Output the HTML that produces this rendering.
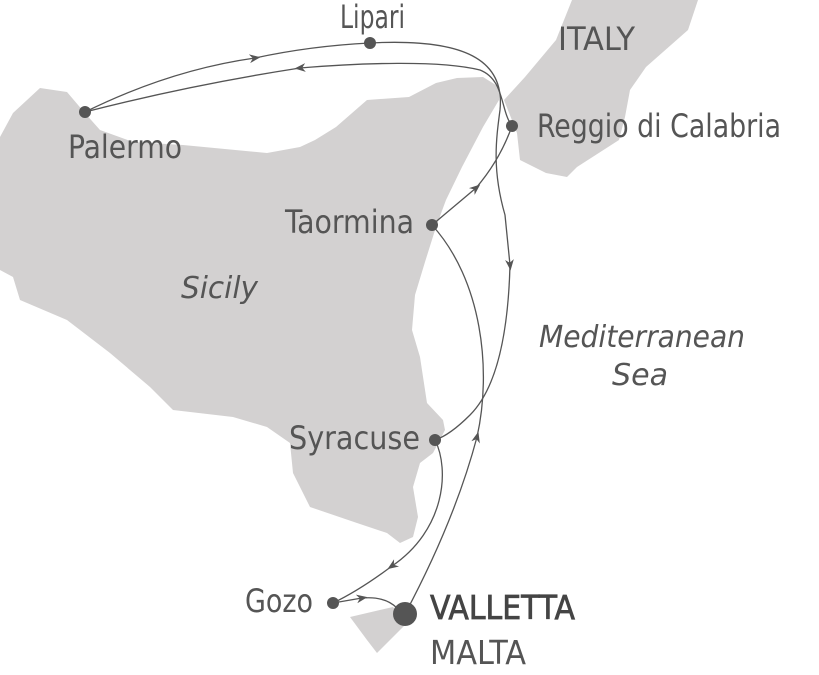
<!DOCTYPE html>
<html><head><meta charset="utf-8"><style>
html,body{margin:0;padding:0;background:#fff}
svg{display:block}
text{font-family:"DejaVu Sans Condensed","DejaVu Sans","Liberation Sans",sans-serif;fill:#555}
</style></head><body>
<svg width="819" height="675" viewBox="0 0 819 675" xmlns="http://www.w3.org/2000/svg">
<defs>
<marker id="a" viewBox="0 0 10 10" refX="5" refY="5" markerWidth="11" markerHeight="11" orient="auto-start-reverse" markerUnits="userSpaceOnUse">
<path d="M0,1 L10,5 L0,9 L3,5 Z" fill="#555"/></marker>
</defs>
<path fill="#d3d1d1" d="M0,137 L13,113 L40,88 L67,92 L84,112 L100,130 L133,142 L183,145 L267,153 L300,147 L315,140 L336,127 L367,100 L409,97 L436,83 L457,78 L483,77 L499,87 L499,100 L483,127 L462,167 L446,200 L436,227 L425,262 L415,295 L412,330 L420,357 L427,403 L443,420 L445,430 L433,453 L420,463 L413,487 L418,517 L413,537 L400,543 L387,533 L357,523 L310,507 L293,473 L290,443 L267,427 L233,417 L173,410 L150,387 L110,353 L67,320 L20,300 L13,277 L0,270 Z"/>
<path fill="#d3d1d1" d="M572,0 L698,0 L688,30 L646,67 L630,90 L625,117 L619,140 L577,167 L567,177 L546,173 L520,160 L517,133 L504,100 L525,77 L556,40 Z"/>
<path fill="#d3d1d1" d="M350,617 L393,607 L407,623 L387,643 L377,653 L367,640 Z"/>
<g fill="none" stroke="#555" stroke-width="1.3">
<path d="M85,112 Q170,70 255,58" marker-end="url(#a)"/>
<path d="M255,58 Q310,46 370,43"/>
<path d="M370,43 C465,38 505,60 500,110 C496,140 492,170 505,215 L510,265" marker-end="url(#a)"/>
<path d="M510,265 C508,340 495,390 470,415 Q450,435 435,440"/>
<path d="M512,126 C500,110 505,80 480,70 C440,60 360,63 300,68" marker-end="url(#a)"/>
<path d="M300,68 Q190,85 85,112"/>
<path d="M432,225 L476,188" marker-end="url(#a)"/>
<path d="M476,188 Q500,160 512,126"/>
<path d="M405,614 Q455,520 477,437" marker-end="url(#a)"/>
<path d="M477,437 C492,370 482,280 432,225"/>
<path d="M435,440 C450,470 445,530 392,566" marker-end="url(#a)"/>
<path d="M392,566 Q360,590 333,603"/>
<path d="M333,603 L362,598" marker-end="url(#a)"/>
<path d="M362,598 Q385,596 397,608"/>
</g>
<g fill="#555">
<circle cx="370" cy="43" r="6"/>
<circle cx="85" cy="112" r="6"/>
<circle cx="512" cy="126" r="6"/>
<circle cx="432" cy="225" r="6"/>
<circle cx="435" cy="440" r="6"/>
<circle cx="333" cy="603" r="6"/>
<circle cx="405" cy="614" r="12"/>
</g>
<g font-size="32">
<text x="340" y="28" textLength="65" lengthAdjust="spacingAndGlyphs">Lipari</text>
<text x="68" y="158" textLength="114" lengthAdjust="spacingAndGlyphs">Palermo</text>
<text x="537" y="137" textLength="244" lengthAdjust="spacingAndGlyphs">Reggio di Calabria</text>
<text x="285" y="233" textLength="129" lengthAdjust="spacingAndGlyphs">Taormina</text>
<text x="289" y="449" textLength="131" lengthAdjust="spacingAndGlyphs">Syracuse</text>
<text x="245" y="612" textLength="68" lengthAdjust="spacingAndGlyphs">Gozo</text>
<text x="430" y="619" font-size="33" textLength="145" lengthAdjust="spacingAndGlyphs" style="fill:#444;stroke:#444;stroke-width:0.7">VALLETTA</text>
<text x="430" y="664" font-size="33" textLength="96" lengthAdjust="spacingAndGlyphs">MALTA</text>
<text x="558" y="50" font-size="32" textLength="77" lengthAdjust="spacingAndGlyphs">ITALY</text>
<text x="181" y="298" font-style="italic" font-size="30" textLength="77" lengthAdjust="spacingAndGlyphs">Sicily</text>
<text x="539" y="347" font-style="italic" font-size="30" textLength="206" lengthAdjust="spacingAndGlyphs">Mediterranean</text>
<text x="612" y="385" font-style="italic" font-size="30" textLength="56" lengthAdjust="spacingAndGlyphs">Sea</text>
</g>
</svg>
</body></html>
